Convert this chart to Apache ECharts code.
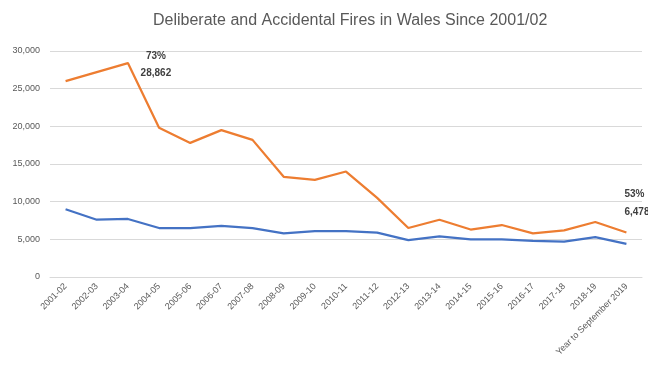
<!DOCTYPE html>
<html><head><meta charset="utf-8">
<script src="https://cdn.jsdelivr.net/npm/echarts@6/dist/echarts.min.js"></script>
<style>html,body{margin:0;padding:0;background:#fff}#c{width:648px;height:371px}</style>
</head><body><div id="c"></div>
<script>
const categories = ["2001-02","2002-03","2003-04","2004-05","2005-06","2006-07","2007-08","2008-09","2009-10","2010-11","2011-12","2012-13","2013-14","2014-15","2015-16","2016-17","2017-18","2018-19","Year to September 2019"];
const deliberate = [26000,27200,28400,19800,17800,19500,18200,13300,12900,14000,10500,6500,7600,6300,6900,5800,6200,7300,5900];
const accidental = [9000,7600,7700,6500,6500,6800,6500,5800,6100,6100,5900,4900,5400,5000,5000,4800,4700,5300,4400];
const yTicks = [0,5000,10000,15000,20000,25000,30000];
const peakLabel = ["73%","28,862"];
const endLabel = ["53%","6,478"];

const chart = echarts.init(document.getElementById('c'));
const fmt = v => v.toLocaleString('en-GB');
chart.setOption({
  animation:false,
  title:{text:"Deliberate and Accidental Fires in Wales Since 2001/02",left:148,top:8,
    textStyle:{fontFamily:'Liberation Sans',fontSize:16,fontWeight:'normal',color:'#595959'}},
  grid:{left:50,right:6,top:51,bottom:94},
  xAxis:{type:'category',data:categories,boundaryGap:true,
    axisLine:{lineStyle:{color:'#d9d9d9'}},axisTick:{show:false},
    axisLabel:{rotate:45,interval:0,fontSize:9,color:'#595959',fontFamily:'Liberation Sans',margin:8}},
  yAxis:{type:'value',min:yTicks[0],max:yTicks[yTicks.length-1],interval:5000,
    axisLine:{show:false},axisTick:{show:false},
    splitLine:{lineStyle:{color:'#d9d9d9'}},
    axisLabel:{fontSize:9,color:'#595959',fontFamily:'Liberation Sans',formatter:fmt,margin:10}},
  series:[
    {type:'line',name:'Deliberate',data:deliberate.map((v,i)=>{
        if(i===2) return {value:v,label:{show:true,position:'inside',offset:[28,2],formatter:peakLabel.join('\n'),lineHeight:17,align:'center',fontSize:10,fontWeight:'bold',color:'#404040',fontFamily:'Liberation Sans'}};
        if(i===deliberate.length-1) return {value:v,label:{show:true,position:'inside',offset:[-2,-29],formatter:endLabel.join('\n'),lineHeight:18,align:'left',fontSize:10,fontWeight:'bold',color:'#404040',fontFamily:'Liberation Sans'}};
        return v;}),
      symbol:'circle',symbolSize:0.01,showSymbol:true,lineStyle:{color:'#ED7D31',width:2.25},itemStyle:{color:'#ED7D31'}},
    {type:'line',name:'Accidental',data:accidental,symbol:'none',lineStyle:{color:'#4472C4',width:2.25},itemStyle:{color:'#4472C4'}}
  ]
});
</script></body></html>
